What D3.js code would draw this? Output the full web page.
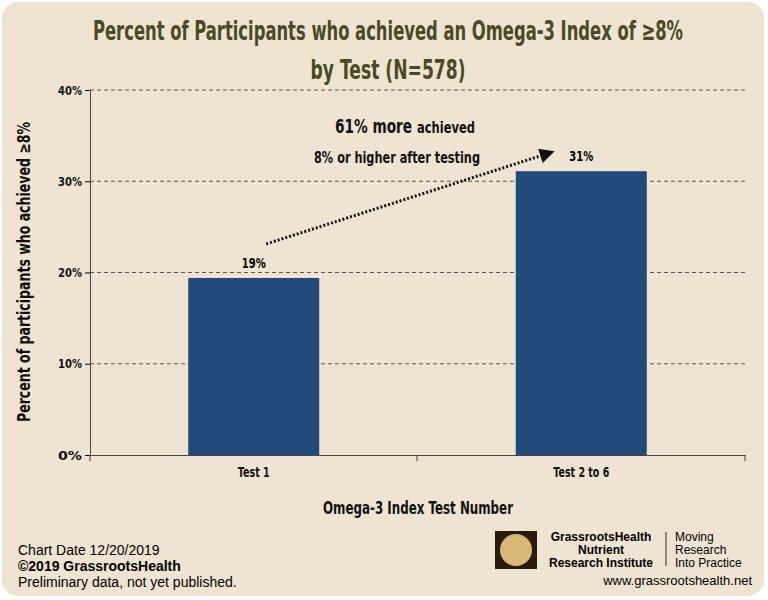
<!DOCTYPE html>
<html><head><meta charset="utf-8">
<script src="https://cdn.jsdelivr.net/npm/d3@7"></script>
<style>body{margin:0;background:#fff}</style></head>
<body><svg id="c" width="768" height="600"></svg>
<script>
var categories = ["Test 1", "Test 2 to 6"];
var values = [19.4, 31.1];
var valueLabels = ["19%", "31%"];
var yTicks = [0, 10, 20, 30, 40];

var svg = d3.select("#c");
var cond = "'DejaVu Sans',sans-serif";
function narrow(sel) { return sel.style("font-stretch", "condensed"); }
svg.append("rect").attr("x", 2).attr("y", 2).attr("width", 762).attr("height", 594)
  .attr("rx", 16).attr("fill", "#eee4d1");

var x = d3.scaleBand().domain(categories).range([90, 745]).paddingInner(0.6).paddingOuter(0.3);
var y = d3.scaleLinear().domain([0, 40]).range([455, 90]);

svg.selectAll(".g").data(yTicks.slice(1)).enter().append("line")
  .attr("x1", 90).attr("x2", 745).attr("y1", d => y(d)).attr("y2", d => y(d))
  .attr("stroke", "#555").attr("stroke-dasharray", "4,3");

var ya = svg.append("g").attr("transform", "translate(90,0)")
  .call(d3.axisLeft(y).tickValues(yTicks).tickFormat(d => d + "%").tickSize(5));
ya.select(".domain").attr("stroke", "#444");
ya.selectAll("text").style("font", "bold 13px " + cond).attr("fill", "#111")
  .attr("textLength", 24).attr("lengthAdjust", "spacingAndGlyphs");

var xa = svg.append("g").attr("transform", "translate(0,455)")
  .call(d3.axisBottom(x).tickSize(0).tickPadding(12));
xa.select(".domain").attr("stroke", "#444");
xa.selectAll("text").style("font", "bold 14px " + cond).attr("fill", "#111")
  .attr("textLength", (d, i) => i ? 56 : 32).attr("lengthAdjust", "spacingAndGlyphs");
[90, 417, 745].forEach(t => svg.append("line").attr("x1", t).attr("x2", t)
  .attr("y1", 455).attr("y2", 461).attr("stroke", "#444"));

svg.selectAll(".b").data(values).enter().append("rect")
  .attr("x", (d, i) => x(categories[i])).attr("width", x.bandwidth())
  .attr("y", d => y(d)).attr("height", d => y(0) - y(d)).attr("fill", "#22497c");

svg.selectAll(".v").data(values).enter().append("text")
  .attr("x", (d, i) => x(categories[i]) + x.bandwidth() / 2).attr("y", d => y(d) - 10)
  .attr("text-anchor", "middle").style("font", "bold 14px " + cond)
  .attr("textLength", 24).attr("lengthAdjust", "spacingAndGlyphs").text((d, i) => valueLabels[i]);

svg.append("defs").append("marker").attr("id", "ah").attr("viewBox", "0 0 10 10")
  .attr("refX", 8).attr("refY", 5).attr("markerWidth", 5).attr("markerHeight", 5).attr("orient", "auto")
  .append("path").attr("d", "M0,0L10,5L0,10z").attr("fill", "#111");
svg.append("line").attr("x1", x(categories[0]) + 78).attr("y1", y(values[0]) - 34)
  .attr("x2", x(categories[1]) + 36).attr("y2", y(values[1]) - 19)
  .attr("stroke", "#111").attr("stroke-width", 3).attr("stroke-dasharray", "2,2")
  .attr("marker-end", "url(#ah)");

var ann = svg.append("text").attr("x", 405).attr("y", 133).attr("text-anchor", "middle")
  .attr("textLength", 140).attr("lengthAdjust", "spacingAndGlyphs")
  .style("font", "bold 16px " + cond).attr("fill", "#111");
ann.append("tspan").style("font-size", "19px").text("61% more ");
ann.append("tspan").text("achieved");
svg.append("text").attr("x", 397).attr("y", 163).attr("text-anchor", "middle")
  .attr("textLength", 166).attr("lengthAdjust", "spacingAndGlyphs")
  .style("font", "bold 16px " + cond).attr("fill", "#111").text("8% or higher after testing");

svg.append("text").attr("x", 388).attr("y", 40).attr("text-anchor", "middle")
  .attr("textLength", 590).attr("lengthAdjust", "spacingAndGlyphs")
  .style("font", "bold 27px " + cond).attr("fill", "#4a4a26")
  .text("Percent of Participants who achieved an Omega-3 Index of \u22658%");
svg.append("text").attr("x", 388).attr("y", 79).attr("text-anchor", "middle")
  .attr("textLength", 155).attr("lengthAdjust", "spacingAndGlyphs")
  .style("font", "bold 27px " + cond).attr("fill", "#4a4a26").text("by Test (N=578)");
svg.append("text").attr("x", 418).attr("y", 514).attr("text-anchor", "middle")
  .attr("textLength", 190).attr("lengthAdjust", "spacingAndGlyphs")
  .style("font", "bold 18px " + cond).attr("fill", "#111").text("Omega-3 Index Test Number");
svg.append("text").attr("transform", "translate(30,272) rotate(-90)").attr("text-anchor", "middle")
  .attr("textLength", 300).attr("lengthAdjust", "spacingAndGlyphs")
  .style("font", "bold 17px " + cond).attr("fill", "#111").text("Percent of participants who achieved \u22658%");

var f = "14px Arial, 'Liberation Sans', sans-serif";
svg.append("text").attr("x", 18).attr("y", 555).style("font", f).text("Chart Date 12/20/2019");
svg.append("text").attr("x", 18).attr("y", 571).style("font", "bold " + f).text("\u00a92019 GrassrootsHealth");
svg.append("text").attr("x", 18).attr("y", 587).style("font", f).text("Preliminary data, not yet published.");

var lg = svg.append("g");
lg.append("rect").attr("x", 495).attr("y", 531).attr("width", 42).attr("height", 38).attr("fill", "#2a1a0a");
lg.append("circle").attr("cx", 516).attr("cy", 550).attr("r", 16).attr("fill", "#d9b774");
var lt = "bold 12px Arial, 'Liberation Sans', sans-serif";
["GrassrootsHealth", "Nutrient", "Research Institute"].forEach((t, i) =>
  lg.append("text").attr("x", 601).attr("y", 541 + i * 13).attr("text-anchor", "middle").style("font", lt).text(t));
lg.append("line").attr("x1", 666).attr("x2", 666).attr("y1", 532).attr("y2", 566).attr("stroke", "#333");
["Moving", "Research", "Into Practice"].forEach((t, i) =>
  lg.append("text").attr("x", 675).attr("y", 541 + i * 13).style("font", "12px Arial, 'Liberation Sans', sans-serif").text(t));
lg.append("text").attr("x", 752).attr("y", 585).attr("text-anchor", "end")
  .style("font", "13px Arial, 'Liberation Sans', sans-serif").text("www.grassrootshealth.net");
</script></body></html>
